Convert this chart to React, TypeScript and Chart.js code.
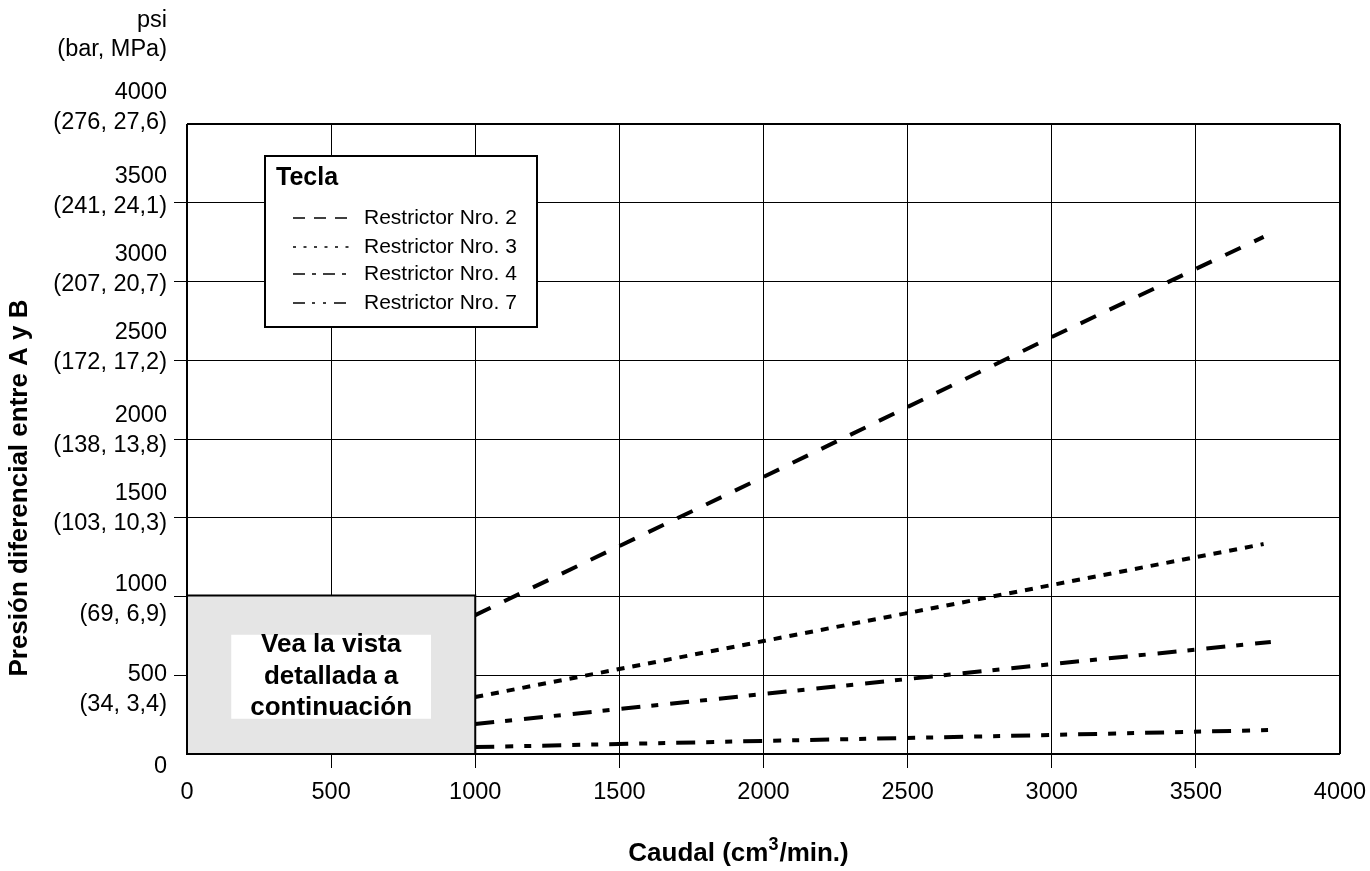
import React, { useEffect, useRef } from 'react';
import { Chart, registerables } from 'chart.js';

Chart.register(...registerables);

// ---------- data ----------
const X_TICKS = [0, 500, 1000, 1500, 2000, 2500, 3000, 3500, 4000];
const Y_TICK_PSI = ['0', '500', '1000', '1500', '2000', '2500', '3000', '3500', '4000'];
const Y_TICK_METRIC = ['', '(34, 3,4)', '(69, 6,9)', '(103, 10,3)', '(138, 13,8)', '(172, 17,2)', '(207, 20,7)', '(241, 24,1)', '(276, 27,6)'];
const Y_UNIT_LINES = ['psi', '(bar, MPa)'];
const SERIES_LABELS = ['Restrictor Nro. 2', 'Restrictor Nro. 3', 'Restrictor Nro. 4', 'Restrictor Nro. 7'];

const R2_X = [1000, 2000, 3000, 3735];
const R2_Y = [882, 1759, 2648, 3283];
const R3_X = [1000, 2000, 3000, 3735];
const R3_Y = [362, 717, 1073, 1333];
const R4_X = [1000, 2000, 3000, 3760];
const R4_Y = [190, 381, 571, 711];
const R7_X = [1000, 2000, 3000, 3755];
const R7_Y = [44, 83, 121, 152];

const X_TITLE_MAIN = 'Caudal (cm';
const X_TITLE_SUP = '3';
const X_TITLE_END = '/min.)';
const Y_TITLE = 'Presión diferencial entre A y B';
const LEGEND_TITLE = 'Tecla';
const NOTE_LINES = ['Vea la vista', 'detallada a', 'continuación'];
const NOTE_BOX_X = [0, 1000];
const NOTE_BOX_Y = [0, 1000];

// ---------- styles / layout ----------
const FONT = "'Liberation Sans', Arial, Helvetica, sans-serif";
const TICK_SIZE = 23.5;
const LINE_DASH = [
  [17, 15],
  [8, 8],
  [19, 11, 7, 12],
  [19, 11, 8, 11, 7, 11],
];
const LEGEND_DASH = [
  [12, 9],
  [3, 7.5],
  [12, 7, 4, 7],
  [12, 7, 3, 8, 3, 8],
];
// per-tick vertical shift of the two-line y label block (centre) relative to the tick
const Y_LABEL_SHIFT = [13, 14, 3, -9, -8, -13, -12, -11, -16];

const toPts = (xs: number[], ys: number[]) => xs.map((x, i) => ({ x, y: ys[i] }));

const overlayPlugin = {
  id: 'overlay',
  afterDatasetsDraw(chart: any) {
    const { ctx, scales, chartArea } = chart;
    const x = scales.x;
    const y = scales.y;
    ctx.save();

    // grey note box
    const bx0 = x.getPixelForValue(NOTE_BOX_X[0]);
    const bx1 = x.getPixelForValue(NOTE_BOX_X[1]);
    const by0 = y.getPixelForValue(NOTE_BOX_Y[1]) - 1;
    const by1 = y.getPixelForValue(NOTE_BOX_Y[0]);
    ctx.fillStyle = '#e5e5e5';
    ctx.fillRect(bx0, by0, bx1 - bx0, by1 - by0);
    ctx.lineWidth = 2;
    ctx.strokeStyle = '#000';
    ctx.strokeRect(bx0, by0, bx1 - bx0, by1 - by0);

    ctx.font = `bold 26px ${FONT}`;
    const maxW = Math.max(...NOTE_LINES.map((t) => ctx.measureText(t).width));
    const cx = (bx0 + bx1) / 2;
    const cy = (by0 + by1) / 2 + 2;
    const lh = 31.5;
    const wbW = maxW + 38;
    const wbH = 84;
    ctx.fillStyle = '#fff';
    ctx.fillRect(cx - wbW / 2, cy - wbH / 2, wbW, wbH);
    ctx.fillStyle = '#000';
    ctx.textAlign = 'center';
    ctx.textBaseline = 'middle';
    NOTE_LINES.forEach((t, i) => {
      ctx.fillText(t, cx, cy + (i - 1) * lh);
    });

    // legend box
    const lx = chartArea.left + 78;
    const ly = chartArea.top + 32;
    const lw = 272;
    const lhh = 171;
    ctx.fillStyle = '#fff';
    ctx.fillRect(lx, ly, lw, lhh);
    ctx.lineWidth = 2;
    ctx.strokeStyle = '#000';
    ctx.strokeRect(lx, ly, lw, lhh);
    ctx.fillStyle = '#000';
    ctx.textAlign = 'left';
    ctx.textBaseline = 'middle';
    ctx.font = `bold 25px ${FONT}`;
    ctx.fillText(LEGEND_TITLE, lx + 11, ly + 22);
    ctx.font = `21px ${FONT}`;
    const rowY = [62, 91, 118, 147];
    chart.data.datasets.forEach((ds: any, i: number) => {
      const yy = ly + rowY[i];
      ctx.beginPath();
      ctx.setLineDash(LEGEND_DASH[i]);
      ctx.lineWidth = 1.5;
      ctx.moveTo(lx + 28, yy);
      ctx.lineTo(lx + 85, yy);
      ctx.stroke();
      ctx.setLineDash([]);
      ctx.fillText(ds.label, lx + 99, yy);
    });
    ctx.restore();
  },
  afterDraw(chart: any) {
    const { ctx, scales, chartArea } = chart;
    const y = scales.y;
    ctx.save();
    ctx.fillStyle = '#000';
    // y tick labels (two lines each)
    ctx.font = `${TICK_SIZE}px ${FONT}`;
    ctx.textAlign = 'right';
    ctx.textBaseline = 'middle';
    const labelRight = chartArea.left - 20;
    const gap = 30;
    Y_TICK_PSI.forEach((psi, i) => {
      const py = y.getPixelForValue(Number(psi)) + Y_LABEL_SHIFT[i];
      const metric = Y_TICK_METRIC[i];
      if (metric) {
        ctx.fillText(psi, labelRight, py - gap / 2);
        ctx.fillText(metric, labelRight, py + gap / 2);
      } else {
        ctx.fillText(psi, labelRight, py);
      }
    });
    // unit header
    ctx.fillText(Y_UNIT_LINES[0], labelRight, 21);
    ctx.fillText(Y_UNIT_LINES[1], labelRight, 50);

    // y title
    ctx.save();
    ctx.font = `bold 26px ${FONT}`;
    ctx.translate(20, 488);
    ctx.rotate(-Math.PI / 2);
    ctx.textAlign = 'center';
    ctx.fillText(Y_TITLE, 0, 0);
    ctx.restore();

    // x title with superscript
    ctx.textAlign = 'left';
    ctx.textBaseline = 'alphabetic';
    ctx.font = `bold 26px ${FONT}`;
    const w1 = ctx.measureText(X_TITLE_MAIN).width;
    const w3 = ctx.measureText(X_TITLE_END).width;
    ctx.font = `bold 18px ${FONT}`;
    const w2 = ctx.measureText(X_TITLE_SUP).width + 1;
    const total = w1 + w2 + w3;
    const startX = (chartArea.left + chartArea.right) / 2 - 25 - total / 2;
    const base = 861;
    ctx.font = `bold 26px ${FONT}`;
    ctx.fillText(X_TITLE_MAIN, startX, base);
    ctx.font = `bold 18px ${FONT}`;
    ctx.fillText(X_TITLE_SUP, startX + w1, base - 11);
    ctx.font = `bold 26px ${FONT}`;
    ctx.fillText(X_TITLE_END, startX + w1 + w2, base);
    ctx.restore();
  },
};

export default function App() {
  const ref = useRef<HTMLCanvasElement | null>(null);

  useEffect(() => {
    if (!ref.current) return;
    const edge = (v: number) => v === 0 || v === 4000;
    const chart = new Chart(ref.current, {
      type: 'line',
      data: {
        datasets: [
          { label: SERIES_LABELS[0], data: toPts(R2_X, R2_Y), borderDash: LINE_DASH[0] },
          { label: SERIES_LABELS[1], data: toPts(R3_X, R3_Y), borderDash: LINE_DASH[1] },
          { label: SERIES_LABELS[2], data: toPts(R4_X, R4_Y), borderDash: LINE_DASH[2] },
          { label: SERIES_LABELS[3], data: toPts(R7_X, R7_Y), borderDash: LINE_DASH[3] },
        ].map((d) => ({
          ...d,
          borderColor: '#000',
          borderWidth: 4,
          borderCapStyle: 'butt' as const,
          pointRadius: 0,
          tension: 0,
          fill: false,
        })),
      },
      options: {
        animation: false,
        responsive: true,
        maintainAspectRatio: false,
        layout: { padding: { top: 124, right: 30, left: 0, bottom: 0 } },
        plugins: {
          legend: { display: false },
          tooltip: { enabled: false },
          title: { display: false },
        },
        scales: {
          x: {
            type: 'linear',
            min: 0,
            max: 4000,
            afterBuildTicks: (s: any) => {
              s.ticks = X_TICKS.map((v) => ({ value: v }));
            },
            afterFit: (s: any) => {
              s.height = 117;
              s.paddingLeft = 0;
              s.paddingRight = 0;
            },
            border: { display: false },
            grid: {
              color: '#000',
              lineWidth: (c: any) => (edge(c.tick?.value) ? 2 : 1),
              tickColor: (c: any) => (edge(c.tick?.value) ? 'rgba(0,0,0,0)' : '#000'),
              tickWidth: 1,
              tickLength: 14,
              drawTicks: true,
            },
            ticks: {
              color: '#000',
              font: { family: FONT, size: TICK_SIZE },
              padding: 10,
              maxRotation: 0,
              autoSkip: false,
              callback: (v: any) => String(v),
            },
          },
          y: {
            type: 'linear',
            min: 0,
            max: 4000,
            afterBuildTicks: (s: any) => {
              s.ticks = Y_TICK_PSI.map((v) => ({ value: Number(v) }));
            },
            afterFit: (s: any) => {
              s.width = 187;
              s.paddingTop = 0;
              s.paddingBottom = 0;
            },
            border: { display: false },
            grid: {
              color: '#000',
              lineWidth: (c: any) => (edge(c.tick?.value) ? 2 : 1),
              tickColor: (c: any) => (edge(c.tick?.value) ? 'rgba(0,0,0,0)' : '#000'),
              tickWidth: 1,
              tickLength: 13,
              drawTicks: true,
            },
            ticks: { display: false },
          },
        },
      },
      plugins: [overlayPlugin],
    } as any);
    return () => chart.destroy();
  }, []);

  return (
    <div style={{ position: 'fixed', left: 0, top: 0, width: 1370, height: 871, background: '#fff' }}>
      <canvas ref={ref} />
    </div>
  );
}
